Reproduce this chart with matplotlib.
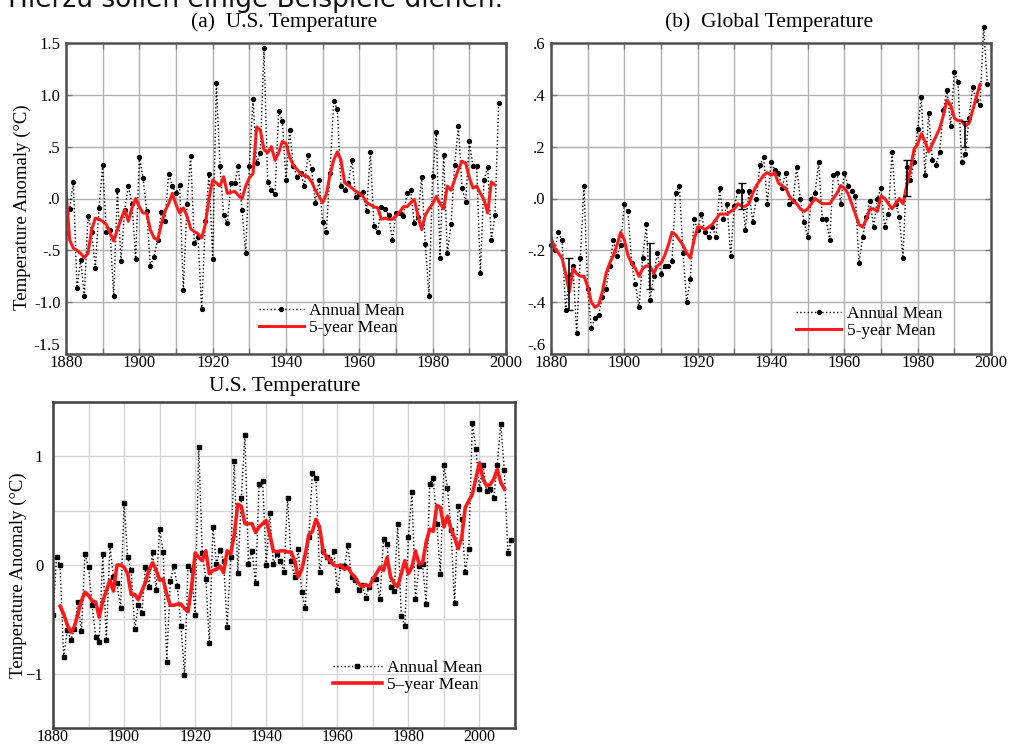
import numpy as np
import matplotlib.pyplot as plt

plt.rcParams['font.family'] = ['Liberation Serif', 'DejaVu Serif']

W, H = 1009, 745

# (a) U.S. temperature, older series
us_old_years = np.arange(1880, 1999)
us_old_annual = [
    -0.33, -0.10, 0.16, -0.86, -0.59, -0.94, -0.17, -0.32, -0.67, -0.09,
    0.32, -0.32, -0.30, -0.94, 0.08, -0.60, -0.11, 0.12, -0.05, -0.58,
    0.40, 0.20, -0.12, -0.65, -0.56, -0.40, -0.13, -0.22, 0.24, 0.12,
    0.05, 0.13, -0.88, -0.05, 0.41, -0.43, -0.37, -1.07, -0.22, 0.24,
    -0.58, 1.11, 0.31, -0.16, -0.24, 0.15, 0.15, 0.31, -0.11, -0.53,
    0.31, 0.96, 0.34, 0.44, 1.45, 0.16, 0.08, 0.04, 0.84, 0.75,
    0.18, 0.66, 0.31, 0.21, 0.25, 0.12, 0.42, 0.28, -0.04, 0.18,
    -0.23, -0.32, 0.25, 0.94, 0.86, 0.12, 0.08, 0.15, 0.37, 0.01,
    0.04, 0.06, -0.12, 0.45, -0.27, -0.32, -0.08, -0.10, -0.16, -0.40,
    -0.14, -0.14, -0.17, 0.05, 0.08, -0.24, -0.18, 0.21, -0.44, -0.94,
    0.22, 0.64, -0.57, 0.42, -0.53, -0.25, 0.32, 0.70, 0.10, -0.03,
    0.55, 0.31, 0.31, -0.72, 0.18, 0.30, -0.40, -0.16, 0.92]
us_old_5yr_years = np.arange(1880, 1998)
us_old_5yr = [
    0.07, -0.40, -0.48, -0.50, -0.53, -0.57, -0.53, -0.30, -0.19, -0.20,
    -0.22, -0.25, -0.33, -0.41, -0.30, -0.20, -0.11, -0.22, -0.09, 0.00,
    -0.08, -0.14, -0.14, -0.30, -0.38, -0.40, -0.25, -0.12, -0.05, 0.05,
    -0.06, -0.14, -0.09, -0.17, -0.29, -0.32, -0.34, -0.38, -0.25, 0.00,
    0.18, 0.15, 0.12, 0.21, 0.05, 0.06, 0.07, 0.03, 0.00, 0.12,
    0.20, 0.24, 0.69, 0.66, 0.47, 0.44, 0.50, 0.37, 0.44, 0.55,
    0.53, 0.40, 0.32, 0.28, 0.24, 0.22, 0.21, 0.16, 0.08, 0.02,
    -0.04, 0.04, 0.23, 0.37, 0.45, 0.37, 0.15, 0.13, 0.10, 0.07,
    0.05, 0.02, -0.04, -0.06, -0.08, -0.09, -0.20, -0.19, -0.20, -0.20,
    -0.17, -0.13, -0.08, -0.08, -0.04, -0.01, -0.17, -0.30, -0.16, -0.10,
    -0.05, 0.02, -0.05, -0.10, 0.12, 0.08, 0.18, 0.28, 0.36, 0.34,
    0.20, 0.10, 0.12, 0.05, -0.01, -0.14, 0.16, 0.13]

# (b) global temperature
glob_years = np.arange(1880, 2000)
glob_annual = [
    -0.18, -0.20, -0.13, -0.16, -0.43, -0.30, -0.26, -0.52, -0.23, 0.05,
    -0.35, -0.50, -0.46, -0.45, -0.38, -0.35, -0.26, -0.16, -0.22, -0.18,
    -0.02, -0.05, -0.25, -0.33, -0.42, -0.23, -0.10, -0.39, -0.30, -0.21,
    -0.29, -0.26, -0.26, -0.24, 0.02, 0.05, -0.21, -0.40, -0.31, -0.08,
    -0.12, -0.06, -0.13, -0.15, -0.11, -0.15, 0.04, -0.08, -0.02, -0.22,
    -0.03, 0.03, 0.03, -0.12, 0.03, -0.09, 0.00, 0.13, 0.16, -0.02,
    0.14, 0.11, 0.10, 0.04, 0.10, -0.02, -0.01, 0.12, 0.00, -0.09,
    -0.15, 0.00, 0.02, 0.14, -0.08, -0.08, -0.16, 0.09, 0.10, -0.02,
    0.10, 0.05, 0.03, 0.01, -0.25, -0.15, -0.07, -0.01, -0.11, 0.00,
    0.04, -0.11, -0.06, 0.18, -0.02, -0.07, -0.23, 0.12, 0.07, 0.14,
    0.27, 0.39, 0.09, 0.33, 0.15, 0.13, 0.18, 0.34, 0.42, 0.28,
    0.49, 0.45, 0.14, 0.17, 0.31, 0.43, 0.38, 0.36, 0.66, 0.44]
glob_5yr_years = np.arange(1880, 1998)
glob_5yr = [
    -0.15, -0.19, -0.21, -0.23, -0.29, -0.36, -0.27, -0.29, -0.30, -0.30,
    -0.34, -0.40, -0.42, -0.41, -0.36, -0.29, -0.25, -0.22, -0.18, -0.13,
    -0.16, -0.22, -0.25, -0.27, -0.30, -0.27, -0.26, -0.26, -0.29, -0.26,
    -0.25, -0.22, -0.18, -0.13, -0.14, -0.16, -0.18, -0.21, -0.23, -0.16,
    -0.11, -0.11, -0.12, -0.11, -0.10, -0.08, -0.06, -0.06, -0.06, -0.05,
    -0.04, -0.02, -0.03, -0.03, -0.02, 0.02, 0.05, 0.07, 0.09, 0.10,
    0.09, 0.10, 0.06, 0.05, 0.04, 0.01, -0.01, -0.02, -0.04, -0.05,
    -0.04, -0.02, 0.00, -0.01, -0.02, -0.02, -0.02, 0.00, 0.02, 0.05,
    0.04, 0.02, -0.02, -0.06, -0.10, -0.11, -0.08, -0.04, -0.04, -0.05,
    0.01, 0.00, -0.02, -0.04, -0.02, 0.00, -0.02, 0.05, 0.11, 0.19,
    0.21, 0.25, 0.22, 0.18, 0.21, 0.24, 0.27, 0.32, 0.38, 0.36,
    0.31, 0.30, 0.30, 0.28, 0.29, 0.34, 0.39, 0.44]
glob_err_years = [1885, 1907, 1932, 1977, 1993]
glob_err_mid = [-0.33, -0.26, 0.01, 0.08, 0.25]
glob_err_half = [0.10, 0.09, 0.05, 0.07, 0.05]

# (c) U.S. temperature, newer series
us_new_years = np.arange(1880, 2010)
us_new_annual = [
    -0.46, 0.07, 0.00, -0.85, -0.60, -0.69, -0.59, -0.34, -0.61, 0.10,
    -0.02, -0.37, -0.66, -0.71, 0.10, -0.69, 0.18, -0.11, -0.17, -0.40,
    0.57, 0.07, -0.05, -0.59, -0.37, -0.44, -0.02, -0.20, 0.12, -0.23,
    0.33, 0.12, -0.89, -0.15, -0.01, -0.19, -0.56, -1.01, -0.01, -0.05,
    -0.46, 1.09, 0.11, -0.13, -0.72, 0.35, 0.01, 0.14, 0.04, -0.57,
    0.07, 0.96, -0.07, 0.62, 1.20, 0.01, 0.13, -0.17, 0.75, 0.77,
    0.00, 0.48, 0.01, 0.10, 0.04, -0.06, 0.62, 0.04, -0.11, 0.15,
    -0.25, -0.40, 0.26, 0.85, 0.80, -0.06, 0.13, 0.07, 0.04, 0.13,
    -0.23, -0.01, -0.01, 0.18, -0.11, -0.14, -0.23, -0.18, -0.30, -0.20,
    -0.13, -0.13, -0.31, 0.24, 0.19, -0.20, -0.24, 0.38, -0.47, -0.56,
    0.26, 0.67, -0.31, -0.01, 0.01, -0.36, 0.75, 0.80, 0.38, -0.08,
    0.92, 0.71, 0.32, -0.35, 0.54, 0.42, -0.06, 0.15, 1.31, 1.07,
    0.70, 0.92, 0.68, 0.70, 0.62, 0.92, 1.30, 0.87, 0.11, 0.23]
us_new_5yr_years = np.arange(1882, 2008)
us_new_5yr = [
    -0.38, -0.45, -0.55, -0.62, -0.57, -0.45, -0.33, -0.25,
    -0.28, -0.33, -0.34, -0.48, -0.33, -0.24, -0.14, -0.24, 0.00, 0.00,
    -0.02, -0.08, -0.27, -0.27, -0.32, -0.24, -0.16, -0.05, 0.02, -0.04,
    -0.14, -0.13, -0.27, -0.37, -0.37, -0.36, -0.36, -0.40, -0.43, -0.20,
    0.11, 0.07, 0.04, 0.13, -0.08, -0.05, -0.04, -0.01, -0.07, 0.13,
    0.10, 0.28, 0.56, 0.54, 0.38, 0.38, 0.38, 0.30, 0.35, 0.38,
    0.41, 0.28, 0.13, 0.12, 0.13, 0.13, 0.12, 0.12, 0.04, -0.11,
    -0.04, 0.10, 0.28, 0.31, 0.42, 0.35, 0.13, 0.07, 0.04, 0.00,
    -0.01, 0.00, -0.04, -0.02, -0.08, -0.11, -0.17, -0.20, -0.18, -0.20,
    -0.13, -0.08, -0.02, -0.05, 0.07, -0.11, -0.17, -0.20, -0.08, 0.04,
    -0.08, -0.02, 0.13, 0.01, 0.02, 0.21, 0.33, 0.31, 0.55, 0.53,
    0.35, 0.45, 0.33, 0.25, 0.15, 0.25, 0.53, 0.59, 0.65, 0.80,
    0.94, 0.79, 0.73, 0.74, 0.79, 0.88, 0.76, 0.70]


def px_axes(fig, left, top, right, bottom):
    return fig.add_axes([left / W, 1 - bottom / H, (right - left) / W, (bottom - top) / H])


def px_text(fig, x, y, s, **kw):
    fig.text(x / W, 1 - y / H, s, **kw)


def setup(ax, xmax, yticks, ylabels, gridcol, spinecol, ticklen):
    ax.set_xlim(1880, xmax)
    ax.set_ylim(yticks[0], yticks[-1])
    xt = np.arange(1880, xmax + 1, 10)
    ax.set_xticks(xt)
    ax.set_xticklabels([str(x) if (x - 1880) % 20 == 0 and x <= 2000 else '' for x in xt])
    ax.set_yticks(yticks)
    ax.set_yticklabels(ylabels)
    ax.grid(True, color=gridcol, lw=1.0)
    ax.set_axisbelow(True)
    for s in ax.spines.values():
        s.set_color(spinecol)
        s.set_linewidth(1.8)
    ax.tick_params(direction='in', length=ticklen, width=1, color='#777777',
                   labelsize=12, top=True, right=True)
    ax.tick_params(axis='x', pad=1)
    ax.tick_params(axis='y', pad=4)


def draw(ax, years, annual, y5, m5, marker, ms):
    ax.plot(years, annual, color='black', ls=':', lw=1.0, marker=marker, ms=ms,
            label='Annual Mean')
    ax.plot(y5, m5, color='#ff1a1a', lw=2.2, label='5-year Mean')


fig = plt.figure(figsize=(W / 100, H / 100), dpi=100)

px_text(fig, 8, 7, 'Hierzu sollen einige Beispiele dienen.', family='DejaVu Sans',
        fontsize=19, va='baseline', ha='left', color='#111111')

# (a)
ax = px_axes(fig, 66, 43, 506, 354)
setup(ax, 2000, [-1.5, -1.0, -0.5, 0.0, 0.5, 1.0, 1.5],
      ['-1.5', '-1.0', '-.5', '.0', '.5', '1.0', '1.5'], '#b0b0b0', '#505050', 4)
ax.get_yticklabels()[0].set_verticalalignment('bottom')
draw(ax, us_old_years, us_old_annual, us_old_5yr_years, us_old_5yr, 'o', 2.8)
ax.legend(loc='lower left', bbox_to_anchor=(0.41, 0.02), frameon=False, fontsize=12.5,
          handlelength=2.6, handletextpad=0.3, labelspacing=0.05, borderpad=0.2,
          numpoints=1)
px_text(fig, 284, 22, '(a)  U.S. Temperature', fontsize=15.5, ha='center', va='center')
px_text(fig, 22, 207, 'Temperature Anomaly (°C)', fontsize=13.5, rotation=90,
        ha='center', va='center')

# (b)
ax = px_axes(fig, 551, 43, 991, 354)
setup(ax, 2000, [-0.6, -0.4, -0.2, 0.0, 0.2, 0.4, 0.6],
      ['-.6', '-.4', '-.2', '.0', '.2', '.4', '.6'], '#b0b0b0', '#505050', 4)
ax.get_yticklabels()[0].set_verticalalignment('bottom')
draw(ax, glob_years, glob_annual, glob_5yr_years, glob_5yr, 'o', 2.8)
ax.lines[0].set_clip_on(False)
ax.errorbar(glob_err_years, glob_err_mid, yerr=glob_err_half, fmt='none',
            ecolor='black', elinewidth=1.2, capsize=3)
ax.legend(loc='lower left', bbox_to_anchor=(0.53, 0.01), frameon=False, fontsize=12.5,
          handlelength=2.6, handletextpad=0.3, labelspacing=0.05, borderpad=0.2,
          numpoints=1)
px_text(fig, 769, 22, '(b)  Global Temperature', fontsize=15.5, ha='center', va='center')

# (c)
ax = px_axes(fig, 53, 402, 515, 728)
setup(ax, 2010, [-1.5, -1.0, -0.5, 0.0, 0.5, 1.0, 1.5],
      ['', '\u22121', '', '0', '', '1', ''], '#d4d4d4', '#404040', 0)
ax.tick_params(axis='y', pad=7)
ax.tick_params(axis='x', pad=1, labelsize=11.5)
draw(ax, us_new_years, us_new_annual, us_new_5yr_years, us_new_5yr, 's', 3.2)
ax.lines[1].set_linewidth(2.6)
ax.lines[1].set_label('5\u2013year Mean')
ax.legend(loc='lower left', bbox_to_anchor=(0.58, 0.07), frameon=False, fontsize=12.5,
          handlelength=2.8, handletextpad=0.3, labelspacing=0.05, borderpad=0.2,
          numpoints=1)
px_text(fig, 285, 387, 'U.S. Temperature', fontsize=15.5, ha='center', va='center')
px_text(fig, 18, 575, 'Temperature Anomaly (°C)', fontsize=13.5, rotation=90,
        ha='center', va='center')

fig.savefig('out.png', dpi=100)
